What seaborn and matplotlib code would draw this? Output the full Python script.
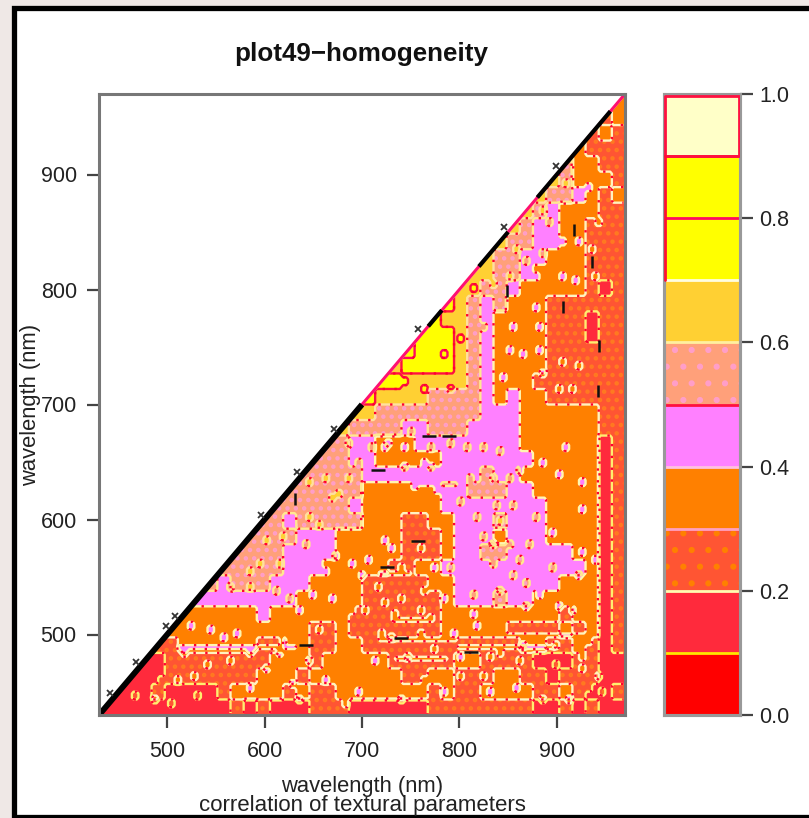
"""
plot.py
Lower-triangle homogeneity map with a stepped colour key.
"""

import matplotlib
matplotlib.use("Agg")
import matplotlib.pyplot as plt
from matplotlib.colors import ListedColormap
from matplotlib.patches import Rectangle
import numpy as np
import seaborn as sns

# wavelength grid
wl_min = 430
wl_max = 970
n_cells = 40
refine = 4
wl_ticks = [500, 600, 700, 800, 900]
key_ticks = [0.0, 0.2, 0.4, 0.6, 0.8, 1.0]
key_bounds = [0.0, 0.1, 0.2, 0.3, 0.4, 0.5, 0.6, 0.7, 0.8, 0.9, 1.0]
key_colors = ["#ff0000", "#ff2a3c", "#ff5533", "#ff8000", "#ff80ff",
              "#ffa07a", "#ffd033", "#ffff00", "#ffff00", "#ffffc8"]
key_edges = ["#ffe600", "#fffbb0", "#ffa0c0", "#ffc0e0", "#ff1040",
             "#fff0a0", "#fffde0", "#ff0a60", "#ff1040"]
map_edges = ["#ffff30", "#ffee70", "#fff3c0", "#fff6b0", "#ffe890",
             "#ffe0a0", "#ff1040", "#ff0a60", "#ff1040"]

# class (0-9) of each cell, bottom row first, each row starts on the diagonal
row_classes = [
    "1111111111212111222111111222222221121211",
    "111211112333323223333333232233332232112",
    "11122222223332333333322332223322122211",
    "1122222222333233333222223322221112211",
    "223333332233223322222222222233223212",
    "33333333333223222222233333222232312",
    "3333334333333222222233333333323312",
    "444444443333322222234445443333312",
    "54555444333322222334444444433312",
    "5555544433333223344444444444312",
    "555544443333322234455444443312",
    "55554443333322234443444333312",
    "5545555533322334445444333312",
    "555555433333344444444333312",
    "55555533333344555443333312",
    "5555544444444454433333312",
    "555443333344444443333312",
    "55443334444444433333312",
    "6555544555444433333322",
    "665555555544433333322",
    "76666555543433222222",
    "7766666543332222222",
    "677776543333222222",
    "87776543333222222",
    "7776543333222122",
    "766543333222122",
    "76545333222222",
    "6655433333212",
    "665543333222",
    "65544333222",
    "6554433222",
    "654433222",
    "65433322",
    "6554323",
    "653332",
    "53322",
    "3222",
    "232",
    "23",
    "3",
]

# isolated cells one class above their surroundings
spot_x = [599, 616, 640, 613, 595, 582, 585, 609, 623, 564, 644, 654, 661, 668, 644, 685, 709, 695, 723, 685,
          675, 661, 688, 671, 699, 647, 668, 688, 633, 654, 616, 571, 544, 523, 558, 585, 602, 564, 540, 516,
          527, 492, 509, 465, 485, 503, 530, 585, 626, 633, 681, 695, 661, 613, 644, 712, 719, 702, 723, 716,
          706, 723, 750, 770, 791, 743, 726, 805, 822, 839, 763, 743, 770, 808, 832, 849, 860, 753, 777, 798,
          836, 853, 815, 839, 877, 884, 901, 925, 908, 925, 894, 849, 870, 860, 822, 832, 894, 832, 853, 867,
          839, 880, 867, 812, 922, 915, 901, 939, 925, 760, 729, 774, 739, 788, 763, 784, 739, 760, 732, 812,
          770, 794, 818, 760, 729, 774, 746, 798, 839, 860, 829, 898, 925, 942, 763, 798, 822, 781, 829, 856,
          739, 884, 911, 932, 946, 925, 898, 863, 932, 932, 942, 935, 922, 904, 884, 867, 849, 877, 904, 918,
          939, 877, 880, 880, 863, 849, 884, 904, 922, 901, 915, 853, 822, 843, 812, 801, 784, 743, 763, 788,
          832, 856, 891, 884, 908]
spot_y = [579, 585, 576, 561, 561, 553, 538, 535, 530, 538, 599, 593, 634, 617, 631, 666, 660, 648, 660, 634,
          619, 553, 561, 567, 550, 532, 529, 521, 518, 503, 492, 500, 503, 506, 495, 483, 469, 477, 471, 483,
          463, 457, 460, 445, 442, 440, 445, 451, 454, 442, 440, 448, 457, 483, 477, 474, 500, 518, 527, 541,
          564, 579, 675, 660, 663, 660, 666, 660, 660, 657, 648, 644, 643, 634, 634, 634, 640, 628, 625, 614,
          611, 611, 599, 596, 602, 648, 637, 631, 660, 608, 587, 576, 576, 564, 582, 576, 558, 561, 550, 544,
          535, 532, 524, 532, 550, 518, 524, 564, 570, 573, 573, 558, 556, 556, 535, 529, 529, 518, 515, 515,
          512, 500, 506, 498, 495, 486, 480, 480, 483, 474, 480, 471, 469, 463, 460, 463, 463, 448, 448, 453,
          442, 442, 442, 451, 447, 480, 489, 489, 492, 887, 858, 834, 840, 840, 831, 823, 808, 808, 811, 805,
          808, 782, 765, 744, 742, 747, 724, 736, 733, 713, 713, 765, 765, 721, 800, 756, 742, 718, 713, 713,
          802, 834, 858, 866, 892]

# thin horizontal runs near the bottom of the map
streak_x0 = [513, 719, 736, 732, 719, 800, 850, 760]
streak_x1 = [633, 801, 788, 770, 753, 900, 930, 800]
streak_y = [489, 495, 479, 512, 553, 488, 500, 630]

# small black marks
diag_marks = [445, 472, 503, 512, 600, 637, 675, 762, 850, 903]
vdash_x = [631, 918, 936, 849, 906, 943, 942]
vdash_y = [618, 852, 824, 799, 785, 751, 712]
hdash_x = [757, 726, 812, 740, 643, 716, 769, 789]
hdash_y = [581, 559, 485, 497, 491, 643, 673, 673]
black_segments = [(430, 700), (768, 782), (820, 850), (880, 955)]


def to_pos(wl):
    return (np.asarray(wl, dtype=float) - wl_min) / (wl_max - wl_min) * n_cells * refine


def build_grid():
    coarse = np.full((n_cells, n_cells), np.nan)
    for r, row in enumerate(row_classes):
        n = n_cells - r
        vals = [(int(ch) + 0.5) / 10 for ch in row.rjust(n, row[0])[-n:]]
        coarse[r, r:] = vals
        # cell left of the diagonal is half visible, the white triangle covers the rest
        if r > 0:
            coarse[r, r - 1] = vals[0]
    fine = np.kron(coarse, np.ones((refine, refine)))
    for x, y in zip(spot_x, spot_y):
        i, j = int(to_pos(y)), int(to_pos(x))
        fine[i:i + 2, j:j + 2] = np.minimum(fine[i:i + 2, j:j + 2] + 0.1, 0.95)
    for x0, x1, y in zip(streak_x0, streak_x1, streak_y):
        i = int(to_pos(y))
        j0, j1 = int(to_pos(x0)), int(to_pos(x1))
        fine[i, j0:j1] = np.minimum(fine[i, j0:j1] + 0.1, 0.95)
    return fine


sns.set_theme(style="ticks")
plt.rcParams["font.family"] = ["Liberation Sans", "DejaVu Sans"]
plt.rcParams["hatch.linewidth"] = 2.0

W, H = 809, 818
fig = plt.figure(figsize=(W / 100, H / 100), dpi=100, facecolor="#efe8e6")
fig.add_artist(Rectangle((13.5 / W, 1.5 / H), 1.1, 1 - 9 / H,
                         transform=fig.transFigure, facecolor="white",
                         edgecolor="black", linewidth=3.8, zorder=-5))
ax = fig.add_axes([99 / W, 1 - 715 / H, 526 / W, 621 / H])
cax = fig.add_axes([664 / W, 1 - 715 / H, 76 / W, 621 / H])

grid = build_grid()
sns.heatmap(grid, ax=ax, cmap=ListedColormap(key_colors), vmin=0, vmax=1, cbar_ax=cax,
            xticklabels=False, yticklabels=False,
            cbar_kws={"boundaries": key_bounds, "ticks": key_ticks, "format": "%.1f"})
size = n_cells * refine
ax.set_xlim(0, size)
ax.set_ylim(0, size)

# stepped boundaries between classes
fx = np.arange(size) + 0.5
fy = np.arange(size) + 0.5
for lo, dot in [(0.2, "#ff7a20"), (0.5, "#ff9ec8")]:
    cs = ax.contourf(fx, fy, grid, levels=[lo, lo + 0.1], colors="none", hatches=[".."], zorder=1.5)
    cs.set_edgecolor(dot)
    cs.set_linewidth(0)
ax.contour(fx, fy, grid, levels=key_bounds[1:-1], colors=map_edges, linewidths=1.7, zorder=2)
ax.contour(fx, fy, grid, levels=key_bounds[1:-1], colors="#ff0030", linewidths=1.7,
           linestyles=[(0, (1, 4))], zorder=2.1)

ax.plot(to_pos(vdash_x), to_pos(vdash_y), ls="none", marker="|", ms=8, mew=1.8, color="#111111", zorder=2.5)
ax.plot(to_pos(hdash_x), to_pos(hdash_y), ls="none", marker="_", ms=10, mew=1.8, color="#111111", zorder=2.5)

# everything above the diagonal stays blank
ax.fill([0, 0, size], [0, size, size], color="white", zorder=3)
ax.plot(to_pos([wl_min, wl_max]), to_pos([wl_min, wl_max]), color="#ff1070", lw=2.2, zorder=3.2)
for a, b in black_segments:
    ax.plot(to_pos([a, b]), to_pos([a, b]), color="black", lw=4.2 if a == wl_min else 3.0,
            solid_capstyle="butt", zorder=3.3)
marks = np.asarray(diag_marks, dtype=float)
ax.plot(to_pos(marks - 4), to_pos(marks + 4), ls="none", marker="x", ms=5, mew=1.3,
        color="#333333", zorder=3.4)

# main axes
ax.set_xticks(to_pos(wl_ticks))
ax.set_yticks(to_pos(wl_ticks))
ax.set_xticklabels(wl_ticks, rotation=0)
ax.set_yticklabels(wl_ticks, rotation=0)
ax.tick_params(length=9, width=1.6, color="#444444", labelcolor="#222222",
               labelsize=15.5, left=True, bottom=True)
ax.tick_params(axis="x", pad=10)
ax.tick_params(axis="y", pad=7)
for spine in ax.spines.values():
    spine.set_visible(True)
    spine.set_color("#777777")
    spine.set_linewidth(2.2)
    spine.set_zorder(5)
ax.set_xlabel("wavelength (nm)", fontsize=15.8, color="#222222")
ax.set_ylabel("wavelength (nm)", fontsize=15.8, color="#222222")
ax.xaxis.set_label_coords(0.5, -0.098)
ax.yaxis.set_label_coords(-0.11, 0.5)
fig.text(362 / W, 1 - 806 / H, "correlation of textural parameters", ha="center", va="center",
         fontsize=16, color="#222222")
fig.text(361.5 / W, 1 - 54 / H, "plot49\u2212homogeneity", ha="center", va="center",
         fontsize=18.7, fontweight="bold", color="#111111")

# colour key
for lo, base, dot in [(0.2, key_colors[2], "#ff8000"), (0.5, key_colors[5], "#ff9ec8")]:
    cax.axhspan(lo, lo + 0.1, facecolor=base, edgecolor=dot, hatch=".", linewidth=0, zorder=2)
for b, col in zip(key_bounds[1:-1], key_edges):
    cax.axhline(b, color=col, lw=2.0, zorder=3)
cax.plot([0.015, 0.985, 0.985, 0.015, 0.015], [0.9, 0.9, 0.997, 0.997, 0.9], color="#ff1040", lw=2.0,
         transform=cax.get_yaxis_transform(), zorder=6)
cax.plot([0.015, 0.015], [0.7, 0.9], color="#ff1030", lw=2.0, transform=cax.get_yaxis_transform(), zorder=6)
cax.tick_params(length=9, width=1.6, color="#444444", labelcolor="#222222", labelsize=15.5, pad=5)
for spine in cax.spines.values():
    spine.set_visible(True)
    spine.set_color("#999999")
    spine.set_linewidth(2.2)
    spine.set_zorder(5)

fig.savefig("out.png", dpi=100, facecolor=fig.get_facecolor())
plt.close(fig)
